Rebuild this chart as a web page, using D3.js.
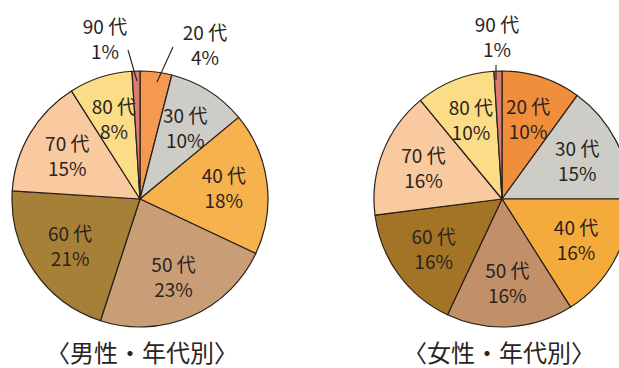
<!DOCTYPE html>
<html>
<head>
<meta charset="utf-8">
<script src="https://cdn.jsdelivr.net/npm/d3@7"></script>
<style>
  html, body { margin: 0; padding: 0; background: #ffffff; }
  svg { display: block; }
</style>
</head>
<body>
<svg id="chart" width="619" height="368"></svg>
<script>
// ---- data ----
const categories = ["20 代", "30 代", "40 代", "50 代", "60 代", "70 代", "80 代", "90 代"];
const maleValues = [4, 10, 18, 23, 21, 15, 8, 1];
const femaleValues = [10, 15, 16, 16, 16, 16, 10, 1];
const chartTitles = ["〈男性・年代別〉", "〈女性・年代別〉"];
const maleColors = ["#F4994F", "#CDCCC6", "#F6B24C", "#C99E76", "#A78038", "#F9C99F", "#FBDC87", "#D97D70"];
const femaleColors = ["#F08E3C", "#CDCCC6", "#F5AB3C", "#C19068", "#A47426", "#F9C99F", "#FBDC87", "#D97D70"];

// ---- layout ----
const svg = d3.select("#chart");
const R = 128;
const charts = [
  { values: maleValues, colors: maleColors, title: chartTitles[0], cx: 140, cy: 199, titleX: 142 },
  { values: femaleValues, colors: femaleColors, title: chartTitles[1], cx: 502, cy: 199, titleX: 499 }
];
// placement of labels drawn outside the pie (chart index - category index)
const outsideLayout = {
  "0-0": { lineFrom: [157, 82], lineTo: [173, 47], label: [205, 40] },
  "0-7": { lineFrom: [137, 81], lineTo: [128, 50], label: [105, 34] },
  "1-7": { lineFrom: [496, 80], lineTo: [496, 65], label: [497, 32] }
};
const textColor = "#2b2320";
const fontFamily = "'Noto Sans CJK JP', 'Noto Sans', sans-serif";
const fontSize = 19;
const lineGap = 25;

const pie = d3.pie().sort(null).value(d => d.value).startAngle(0).endAngle(2 * Math.PI);
const arc = d3.arc().innerRadius(0).outerRadius(R);
const labelArc = d3.arc().innerRadius(R * 0.66).outerRadius(R * 0.66);

function addLabel(parent, x, y, lines) {
  const t = parent.append("text")
    .attr("text-anchor", "middle")
    .attr("font-family", fontFamily)
    .attr("font-size", fontSize)
    .attr("fill", textColor);
  lines.forEach((s, k) => {
    t.append("tspan").attr("x", x).attr("y", y + k * lineGap).text(s);
  });
}

charts.forEach((c, ci) => {
  const data = categories.map((cat, i) => ({ cat, value: c.values[i], color: c.colors[i], i }));
  const arcs = pie(data);
  const g = svg.append("g").attr("transform", `translate(${c.cx},${c.cy})`);

  g.selectAll("path.slice").data(arcs).enter().append("path")
    .attr("class", "slice")
    .attr("d", arc)
    .attr("fill", d => d.data.color)
    .attr("stroke", "#2a1f1a")
    .attr("stroke-width", 1.2)
    .attr("stroke-linejoin", "round");

  arcs.forEach(a => {
    const key = ci + "-" + a.data.i;
    const lines = [a.data.cat, a.data.value + "%"];
    if (outsideLayout[key]) {
      const o = outsideLayout[key];
      svg.append("line")
        .attr("x1", o.lineFrom[0]).attr("y1", o.lineFrom[1])
        .attr("x2", o.lineTo[0]).attr("y2", o.lineTo[1])
        .attr("stroke", "#2a1f1a").attr("stroke-width", 1.1);
      addLabel(svg, o.label[0], o.label[1], lines);
    } else {
      const p = labelArc.centroid(a);
      addLabel(g, p[0], p[1] - 5, lines);
    }
  });

  svg.append("text")
    .attr("x", c.titleX)
    .attr("y", 362)
    .attr("text-anchor", "middle")
    .attr("font-family", fontFamily)
    .attr("font-size", 24)
    .attr("fill", textColor)
    .text(c.title);
});
</script>
</body>
</html>
